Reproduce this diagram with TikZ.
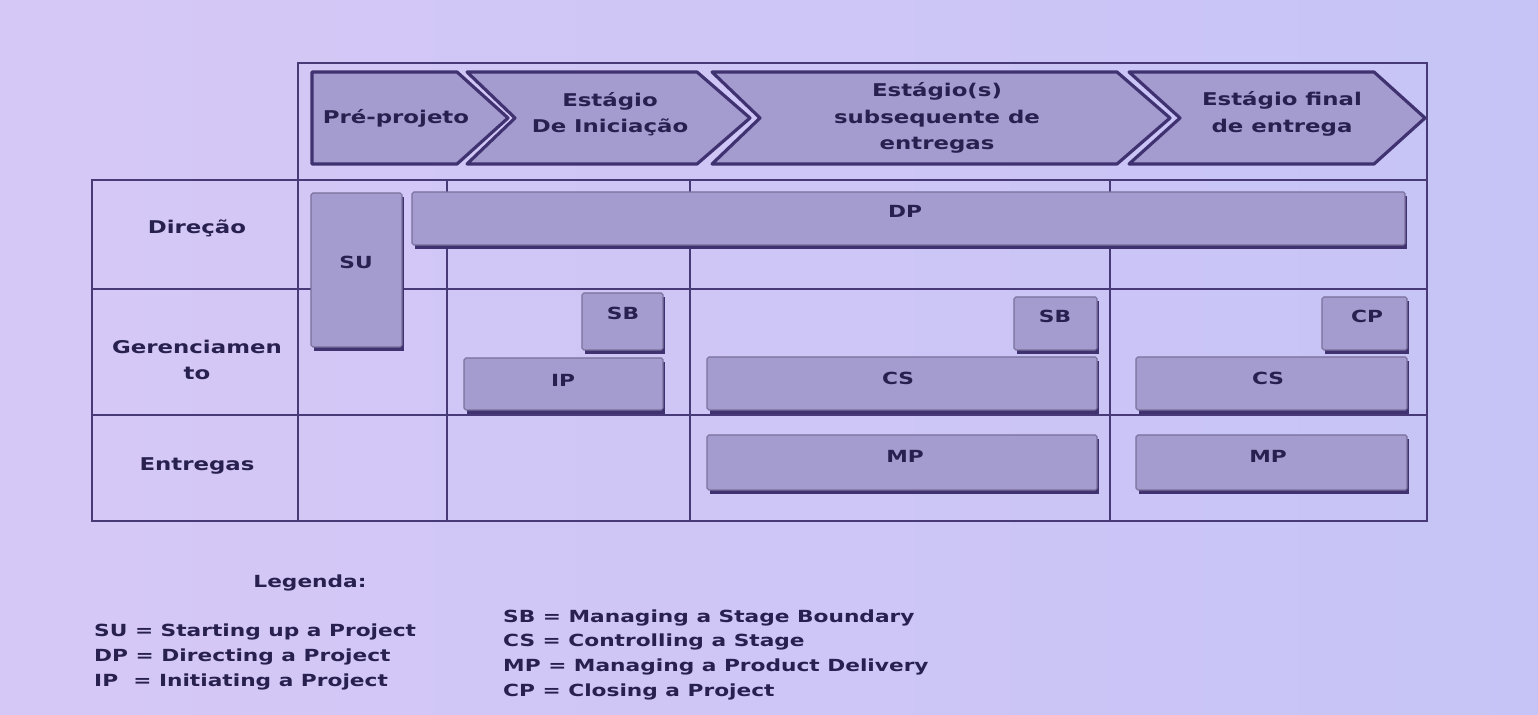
\documentclass[tikz,border=0pt]{standalone}
\usepackage{fontspec}
\setmainfont{DejaVu Sans}[FakeStretch=1.3]
\definecolor{bgleft}{RGB}{214,200,246}
\definecolor{bgright}{RGB}{198,196,246}
\definecolor{gridline}{RGB}{72,58,118}
\definecolor{boxfill}{RGB}{164,155,207}
\definecolor{boxdark}{RGB}{64,50,112}
\definecolor{inktext}{RGB}{40,33,80}

\begin{document}
\begin{tikzpicture}[x=0.02cm,y=-0.02cm,
  grid/.style={gridline, line width=1.4pt},
  stagebox/.style={draw=boxdark, line width=1.8pt, fill=boxfill, line join=round},
  procbox/.style={draw=boxdark!70, line width=0.6pt, fill=boxfill, rounded corners=1pt},
  procshadow/.style={fill=boxdark},
  txt/.style={text=inktext, font=\bfseries\fontsize{10}{15}\selectfont, align=center},
  proclabel/.style={text=inktext, font=\bfseries\fontsize{9.5}{11}\selectfont},
  legend/.style={text=inktext, font=\bfseries\fontsize{9.5}{14}\selectfont, anchor=west}]

\useasboundingbox (0,0) rectangle (1538,715);
\shade[left color=bgleft, right color=bgright] (0,0) rectangle (1538,715);

 \draw[grid] (298,63) rectangle (1427,180);
 \draw[grid] (92,180) rectangle (1427,521);

\draw[grid] (92,289) -- (1427,289);
\draw[grid] (92,415) -- (1427,415);

\draw[grid] (298,180) -- (298,521);
\draw[grid] (447,180) -- (447,521);
\draw[grid] (690,180) -- (690,521);
\draw[grid] (1110,180) -- (1110,521);


\draw[stagebox] (312,72) -- (457,72) -- (508,118) -- (457,164) -- (312,164) -- cycle;
\draw[stagebox] (467,72) -- (697,72) -- (750,118) -- (697,164) -- (467,164) -- (515,118) -- cycle;
\draw[stagebox] (712,72) -- (1117,72) -- (1170,118) -- (1117,164) -- (712,164) -- (760,118) -- cycle;
\draw[stagebox] (1129,72) -- (1374,72) -- (1425,118) -- (1374,164) -- (1129,164) -- (1180,118) -- cycle;

   \node[txt] (pre) at (396,118) {Pré-projeto};
   \node[txt] (inic) at (610,114) {Estágio\\De Iniciação};
   \node[txt] (subs) at (937,118) {Estágio(s)\\subsequente de\\entregas};
   \node[txt] (final) at (1282,114) {Estágio final\\de entrega};

   \node[txt] (dir) at (197,228) {Direção};
   \node[txt] (ger) at (197,360) {Gerenciamen\\to};
   \node[txt] (ent) at (197,466) {Entregas};


\fill[procshadow] (314,197) rectangle (404,351);
\draw[procbox] (311,193) rectangle (402,347);
\fill[procshadow] (415,196) rectangle (1407,249);
\draw[procbox] (412,192) rectangle (1405,245);
\fill[procshadow] (585,297) rectangle (665,354);
\draw[procbox] (582,293) rectangle (663,350);
\fill[procshadow] (467,362) rectangle (665,414);
\draw[procbox] (464,358) rectangle (663,410);
\fill[procshadow] (1017,301) rectangle (1099,354);
\draw[procbox] (1014,297) rectangle (1097,350);
\fill[procshadow] (710,361) rectangle (1099,414);
\draw[procbox] (707,357) rectangle (1097,410);
\fill[procshadow] (1325,301) rectangle (1409,354);
\draw[procbox] (1322,297) rectangle (1407,350);
\fill[procshadow] (1139,361) rectangle (1409,414);
\draw[procbox] (1136,357) rectangle (1407,410);
\fill[procshadow] (710,439) rectangle (1099,494);
\draw[procbox] (707,435) rectangle (1097,490);
\fill[procshadow] (1139,439) rectangle (1409,494);
\draw[procbox] (1136,435) rectangle (1407,490);

   \node[proclabel] (su) at (356,262) {SU};
   \node[proclabel] (dp) at (905,211) {DP};
   \node[proclabel] (sbi) at (623,313) {SB};
   \node[proclabel] (ip) at (563,380) {IP};
   \node[proclabel] (sbs) at (1055,316) {SB};
   \node[proclabel] (css) at (898,378) {CS};
   \node[proclabel] (cp) at (1367,316) {CP};
   \node[proclabel] (csf) at (1268,378) {CS};
   \node[proclabel] (mps) at (905,456) {MP};
   \node[proclabel] (mpf) at (1268,456) {MP};


   \node[legend, anchor=center] (leg) at (310,583) {Legenda:};
   \node[legend] (lsu) at (88,632) {SU = Starting up a Project};
   \node[legend] (ldp) at (88,657) {DP = Directing a Project};
   \node[legend] (lip) at (88,682) {IP~ = Initiating a Project};
   \node[legend] (lsb) at (497,618) {SB = Managing a Stage Boundary};
   \node[legend] (lcs) at (497,642) {CS = Controlling a Stage};
   \node[legend] (lmp) at (497,667) {MP = Managing a Product Delivery};
   \node[legend] (lcp) at (497,692) {CP = Closing a Project};

    \end{tikzpicture}
\end{document}
